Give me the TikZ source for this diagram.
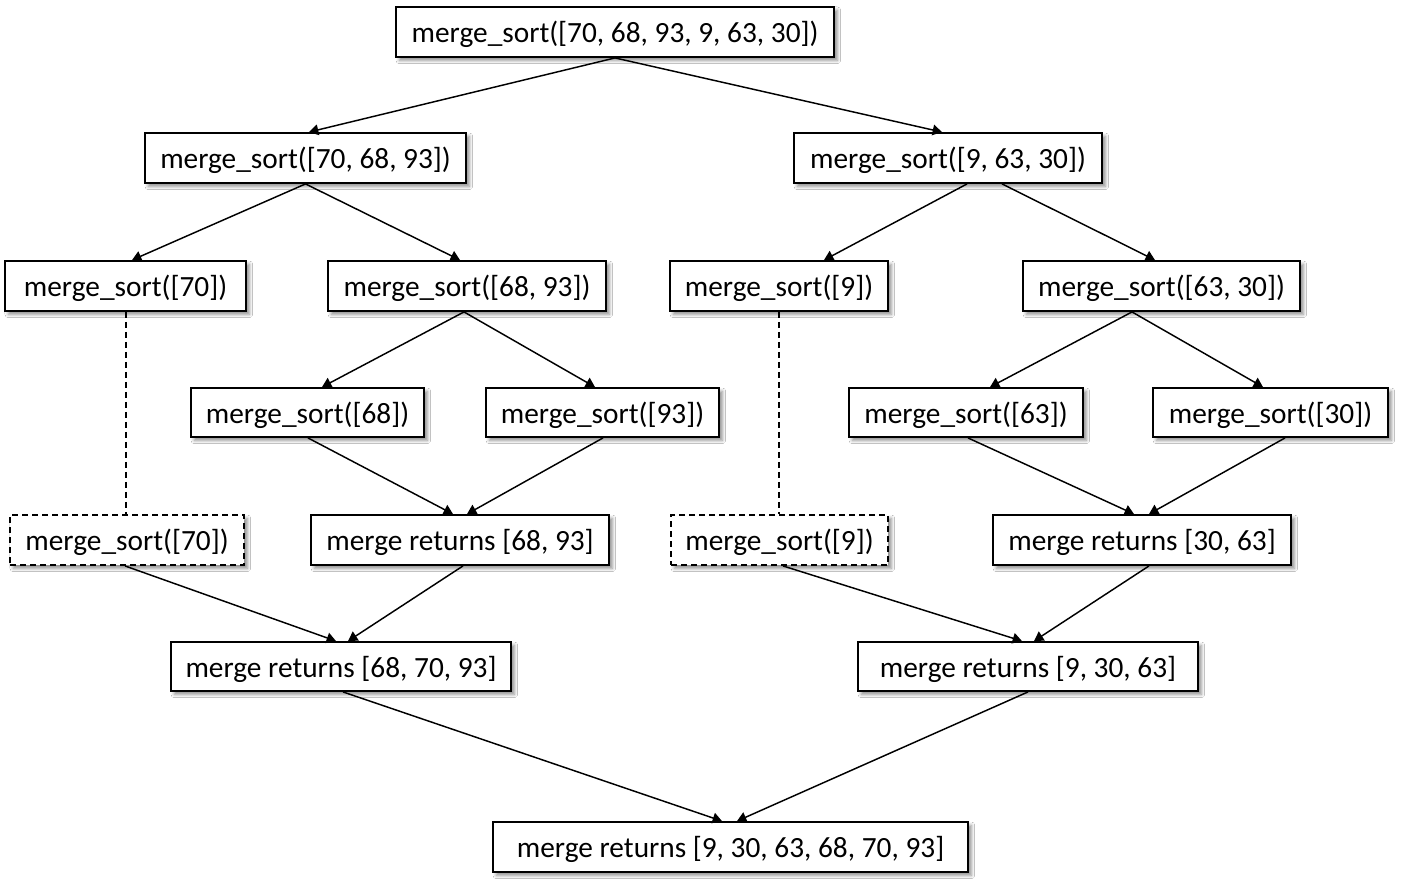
\documentclass[tikz,border=0pt]{standalone}
\usepackage{fontspec}
\setmainfont{Carlito}
\usetikzlibrary{calc,arrows.meta,shadows.blur}
\begin{document}
\begin{tikzpicture}[x=0.75pt,y=-0.75pt,
  box/.style={draw=black,line width=1.4pt,fill=white,inner sep=0pt,text depth=0pt,
    font=\fontsize{22}{26}\selectfont,minimum height=37.5pt,
    blur shadow={shadow xshift=2.5pt,shadow yshift=-2.5pt,shadow blur radius=2.5pt,shadow opacity=45}},
  dbox/.style={box,dash pattern=on 4.5pt off 3pt},
  conn/.style={line width=1.1pt,-{Triangle[length=7pt,width=8pt]}},
  dconn/.style={line width=1.1pt,dash pattern=on 4.5pt off 3pt}]
\useasboundingbox (0,0) rectangle (1403,895);
\fill[white] (0,0) rectangle (1403,895);
\node[box,minimum width=328.5pt] (top) at (615,32) {merge\_sort([70, 68, 93, 9, 63, 30])};
\node[box,minimum width=240.75pt] (L1) at (305.5,158) {merge\_sort([70, 68, 93])};
\node[box,minimum width=231pt] (R1) at (948,158) {merge\_sort([9, 63, 30])};
\node[box,minimum width=180.75pt] (A) at (125.5,286) {merge\_sort([70])};
\node[box,minimum width=208.5pt] (B) at (467,286) {merge\_sort([68, 93])};
\node[box,minimum width=163.5pt] (C) at (779,286) {merge\_sort([9])};
\node[box,minimum width=207.75pt] (D) at (1161.5,286) {merge\_sort([63, 30])};
\node[box,minimum width=174.75pt,minimum height=36.75pt] (E) at (307.5,412.5) {merge\_sort([68])};
\node[box,minimum width=174.75pt,minimum height=36.75pt] (F) at (602.5,412.5) {merge\_sort([93])};
\node[box,minimum width=175.5pt,minimum height=36.75pt] (G) at (966,412.5) {merge\_sort([63])};
\node[box,minimum width=176.25pt,minimum height=36.75pt] (H) at (1270.5,412.5) {merge\_sort([30])};
\node[dbox,minimum width=175.5pt] (I) at (127,540) {merge\_sort([70])};
\node[box,minimum width=223.5pt] (J) at (460,540) {merge returns [68, 93]};
\node[dbox,minimum width=162.75pt] (K) at (779.5,540) {merge\_sort([9])};
\node[box,minimum width=223.5pt] (L) at (1142,540) {merge returns [30, 63]};
\node[box,minimum width=255pt,minimum height=36.75pt] (M) at (341,666.5) {merge returns [68, 70, 93]};
\node[box,minimum width=255pt,minimum height=36.75pt] (N) at (1028,666.5) {merge returns [9, 30, 63]};
\node[box,minimum width=356.25pt] (O) at (730.5,847) {merge returns [9, 30, 63, 68, 70, 93]};
% connectors
\draw[conn] (top.south) -- ($(L1.north)+(3.5,0)$);
\draw[conn] (top.south) -- ($(R1.north)+(-6,0)$);
\draw[conn] (L1.south) -- ($(A.north)+(6.5,0)$);
\draw[conn] (L1.south) -- ($(B.north)+(-7,0)$);
\draw[conn] ($(R1.south)+(19,0)$) -- ($(C.north)+(45,0)$);
\draw[conn] ($(R1.south)+(54,0)$) -- ($(D.north)+(-6.5,0)$);
\draw[conn] ($(B.south)+(-3,0)$) -- ($(E.north)+(14.5,0)$);
\draw[conn] ($(B.south)+(-3,0)$) -- ($(F.north)+(-7.5,0)$);
\draw[conn] ($(D.south)+(-29.5,0)$) -- ($(G.north)+(24,0)$);
\draw[conn] ($(D.south)+(-29.5,0)$) -- ($(H.north)+(-7.5,0)$);
\draw[conn] ($(E.south)+(0.5,0)$) -- ($(J.north)+(-7,0)$);
\draw[conn] ($(F.south)+(0.5,0)$) -- ($(J.north)+(7,0)$);
\draw[conn] ($(G.south)+(2,0)$) -- ($(L.north)+(-8,0)$);
\draw[conn] ($(H.south)+(14.5,0)$) -- ($(L.north)+(7,0)$);
\draw[conn] ($(I.south)+(-2,0)$) -- ($(M.north)+(-5,0)$);
\draw[conn] ($(J.south)+(3,0)$) -- ($(M.north)+(7,0)$);
\draw[conn] ($(K.south)+(3.5,0)$) -- ($(N.north)+(-6,0)$);
\draw[conn] ($(L.south)+(7,0)$) -- ($(N.north)+(6,0)$);
\draw[conn] ($(M.south)+(2,0)$) -- ($(O.north)+(-8.5,0)$);
\draw[conn] (N.south) -- ($(O.north)+(6.5,0)$);
\coordinate (a1) at ($(A.south)+(0.5,0)$);
\draw[dconn] (a1) -- (a1 |- I.north);
\draw[dconn] (C.south) -- (C.south |- K.north);
\end{tikzpicture}
\end{document}
